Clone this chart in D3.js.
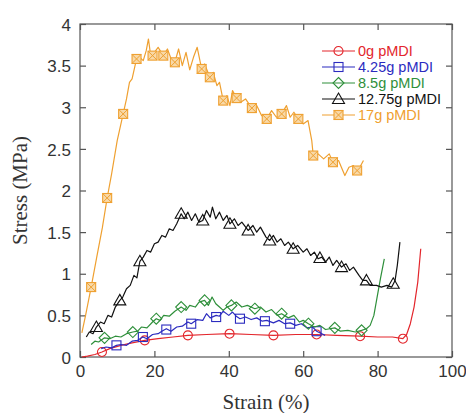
<!DOCTYPE html>
<html>
<head>
<meta charset="utf-8">
<script src="https://cdn.jsdelivr.net/npm/d3@7"></script>
<style>
  body { margin: 0; background: #fff; }
  svg { display: block; }
</style>
</head>
<body>
<div id="chart"></div>
<script>
// Stress-strain curves for foams with different pMDI content

const xTicks = [0, 20, 40, 60, 80, 100];
const yTicks = [0, 0.5, 1, 1.5, 2, 2.5, 3, 3.5, 4];
const seriesNames = ['0g pMDI', '4.25g pMDI', '8.5g pMDI', '12.75g pMDI', '17g pMDI'];

// [strain %, stress MPa]
const line0g = [[0.5,0],[2,0.01],[4,0.03],[5.9,0.06],[8,0.1],[11,0.14],[14,0.17],[17.4,0.2],[21,0.22],[25,0.24],[29,0.26],[34,0.27],[40.2,0.28],[46,0.27],[52,0.26],[58,0.27],[63.6,0.27],[69,0.26],[75.3,0.25],[80,0.24],[84,0.24],[86.8,0.22],[87.8,0.27],[88.8,0.4],[89.8,0.6],[90.8,0.9],[91.6,1.3]];
const marks0g = [[5.9,0.06],[17.4,0.2],[29,0.26],[40.2,0.28],[52,0.26],[63.6,0.27],[75.3,0.25],[86.8,0.22]];

const line425g = [[5.7,0.1],[7,0.12],[8.5,0.11],[9.8,0.14],[11,0.15],[12.5,0.14],[14,0.19],[15.5,0.2],[16.9,0.24],[18,0.22],[19.5,0.27],[21,0.28],[22,0.31],[23.2,0.34],[24.5,0.31],[26,0.36],[27.5,0.37],[29,0.42],[29.9,0.4],[31.5,0.45],[33,0.44],[34,0.52],[35,0.47],[36.6,0.5],[37.5,0.49],[38.5,0.55],[40,0.5],[41,0.54],[42,0.49],[43,0.46],[44.5,0.48],[46,0.45],[47.5,0.47],[49,0.43],[50.2,0.44],[52,0.41],[53.5,0.44],[55,0.4],[56.5,0.41],[58,0.38],[59.5,0.4],[61,0.35],[62.5,0.36],[63.6,0.31],[65,0.28],[65.9,0.26]];
const marks425g = [[9.8,0.14],[16.9,0.24],[23.2,0.33],[29.9,0.4],[36.6,0.48],[43,0.46],[49.7,0.43],[56.5,0.4],[63.6,0.31]];

const line85g = [[3,0.15],[4,0.19],[5,0.18],[6.6,0.23],[8,0.22],[9.5,0.25],[11,0.24],[12.5,0.28],[14.2,0.3],[15.5,0.31],[16.5,0.36],[18,0.35],[19.5,0.42],[20.5,0.46],[21.5,0.44],[22.5,0.5],[24,0.49],[25.5,0.55],[27.2,0.6],[28.5,0.56],[29.5,0.62],[31,0.6],[32,0.66],[33.5,0.68],[34.5,0.62],[35.5,0.72],[36.5,0.64],[37.5,0.6],[38.5,0.56],[39.5,0.6],[40.7,0.62],[42,0.66],[43.5,0.6],[45,0.62],[47,0.58],[48.5,0.6],[50,0.54],[51.5,0.57],[53,0.5],[54.2,0.52],[56,0.47],[57.5,0.5],[59,0.42],[60,0.44],[61.4,0.4],[63,0.36],[64.5,0.38],[66,0.33],[68.5,0.35],[70,0.31],[72,0.32],[74,0.3],[75.7,0.32],[77,0.34],[78,0.38],[79,0.5],[79.8,0.7],[80.8,0.95],[81.8,1.18]];
const marks85g = [[6.6,0.23],[14.2,0.3],[20.5,0.46],[27.2,0.6],[33.5,0.68],[40.7,0.62],[47,0.58],[54.2,0.52],[61.4,0.4],[68.5,0.35],[75.7,0.32]];

const line1275g = [[1.7,0.24],[2.5,0.3],[3.5,0.28],[4.4,0.36],[5.5,0.42],[6.5,0.4],[7.5,0.5],[8.5,0.48],[9.5,0.6],[10.7,0.68],[11.5,0.72],[12.5,0.82],[13.5,0.86],[14.5,0.98],[15.3,0.95],[16.1,1.15],[17,1.2],[18,1.28],[19,1.26],[20,1.36],[21,1.38],[22,1.46],[23,1.44],[24,1.54],[25,1.52],[26,1.6],[27.2,1.72],[28,1.66],[29,1.74],[30,1.64],[31,1.72],[32,1.62],[33,1.64],[34,1.76],[35,1.68],[35.6,1.8],[36.5,1.66],[37.5,1.74],[38.5,1.64],[39.5,1.7],[40.3,1.6],[41.5,1.66],[42.5,1.58],[43.5,1.62],[45.2,1.52],[46.5,1.58],[47.5,1.5],[48.5,1.56],[50,1.44],[51,1.4],[52,1.46],[53,1.38],[54,1.42],[55,1.34],[56,1.38],[57.3,1.3],[58.5,1.34],[60,1.26],[61,1.3],[62,1.22],[63,1.26],[64,1.18],[65,1.2],[66,1.14],[67,1.2],[68,1.1],[69,1.16],[70.3,1.08],[71.5,1.12],[72.5,1.04],[73.5,1.08],[75,0.98],[76,0.92],[77,0.92],[78,0.86],[79.7,0.86],[81,0.84],[82.5,0.86],[83.8,0.84],[84.7,0.92],[85.3,1.1],[86,1.38]];
const marks1275g = [[4.4,0.36],[10.7,0.68],[16.1,1.15],[27.2,1.72],[33,1.64],[40.3,1.6],[45.2,1.52],[51,1.4],[57.3,1.3],[64.5,1.19],[70.3,1.08],[77,0.92],[84.2,0.88]];

const line17g = [[0.5,0.29],[1.5,0.5],[3,0.84],[4.5,1.2],[6,1.55],[7.3,1.91],[8.5,2.2],[10,2.6],[11.6,2.92],[12.5,3.1],[13.3,3.3],[14,3.34],[15.2,3.58],[16,3.6],[17,3.56],[17.8,3.68],[18.4,3.82],[19,3.62],[20,3.66],[21,3.72],[22.4,3.62],[23.5,3.7],[24.5,3.58],[25.5,3.54],[26.5,3.7],[27.5,3.5],[28.5,3.66],[29.5,3.45],[30.5,3.6],[31.5,3.72],[32.7,3.46],[33.5,3.52],[34.9,3.36],[35.8,3.42],[36.8,3.26],[37.5,3.3],[38.5,3.08],[39.5,3.14],[40.3,3.02],[41,3.2],[42.1,3.11],[43.2,3.06],[44.5,3.1],[46.2,2.99],[47.5,3.02],[48.8,2.9],[50.2,2.86],[51.5,2.96],[52.8,2.88],[54.2,2.92],[55.5,3.02],[56.5,2.88],[57.5,2.94],[58.7,2.86],[60,2.8],[61.3,2.84],[62.3,2.6],[62.7,2.42],[64,2.44],[65.5,2.38],[67,2.44],[68,2.34],[69.5,2.36],[71.2,2.18],[72.3,2.28],[73.5,2.3],[74.5,2.22],[76.2,2.36]];
const marks17g = [[3,0.84],[7.3,1.91],[11.6,2.92],[15.2,3.58],[19.5,3.62],[22.4,3.62],[25.5,3.54],[32.7,3.46],[34.9,3.36],[38.5,3.08],[42.1,3.11],[46.2,2.99],[50.2,2.86],[54.2,2.92],[58.7,2.86],[62.7,2.42],[68,2.34],[74.5,2.24]];

function createChart() {
    const width = 466, height = 413;
    const margin = {top: 24, right: 14, bottom: 56, left: 80};

    const svg = d3.select('#chart').append('svg')
        .attr('width', width)
        .attr('height', height);

    const x = d3.scaleLinear().domain([0, 100]).range([margin.left, width - margin.right]);
    const y = d3.scaleLinear().domain([0, 4]).range([height - margin.bottom, margin.top]);

    const series = [
        {name: seriesNames[0], line: line0g, marks: marks0g, color: '#e3262c', shape: 'circle'},
        {name: seriesNames[1], line: line425g, marks: marks425g, color: '#2b2bbf', shape: 'square'},
        {name: seriesNames[2], line: line85g, marks: marks85g, color: '#2e8f3a', shape: 'diamond'},
        {name: seriesNames[3], line: line1275g, marks: marks1275g, color: '#111111', shape: 'triangle'},
        {name: seriesNames[4], line: line17g, marks: marks17g, color: '#efa030', shape: 'xsquare'}
    ];

    // Frame
    svg.append('rect')
        .attr('x', x(0)).attr('y', y(4))
        .attr('width', x(100) - x(0)).attr('height', y(0) - y(4))
        .attr('fill', 'none').attr('stroke', '#555').attr('stroke-width', 1.2);

    // Inner ticks on all sides
    const fmt = d => String(d);
    const axisBottom = d3.axisBottom(x).tickValues(xTicks).tickFormat(fmt).tickSizeInner(-6).tickSizeOuter(0).tickPadding(8);
    const axisTop = d3.axisTop(x).tickValues(xTicks).tickSizeInner(-6).tickSizeOuter(0).tickFormat('');
    const axisLeft = d3.axisLeft(y).tickValues(yTicks).tickFormat(fmt).tickSizeInner(-6).tickSizeOuter(0).tickPadding(9);
    const axisRight = d3.axisRight(y).tickValues(yTicks).tickSizeInner(-6).tickSizeOuter(0).tickFormat('');

    svg.append('g').attr('transform', `translate(0,${y(0)})`).call(axisBottom);
    svg.append('g').attr('transform', `translate(0,${y(4)})`).call(axisTop);
    const gy = svg.append('g').attr('transform', `translate(${x(0)},0)`).call(axisLeft);
    svg.append('g').attr('transform', `translate(${x(100)},0)`).call(axisRight);

    svg.selectAll('.domain').remove();
    svg.selectAll('.tick line').attr('stroke', '#555').attr('stroke-width', 1.2);
    svg.selectAll('.tick text')
        .style('font-family', '"Liberation Sans", Arial, sans-serif')
        .style('font-size', '17px')
        .attr('fill', '#333');
    gy.selectAll('.tick text').attr('dy', '0.36em');

    // Axis titles
    svg.append('text')
        .attr('x', (x(0) + x(100)) / 2)
        .attr('y', 409)
        .attr('text-anchor', 'middle')
        .style('font-family', '"Liberation Serif", "Times New Roman", serif')
        .style('font-size', '21px')
        .attr('fill', '#333')
        .text('Strain (%)');

    svg.append('text')
        .attr('transform', `translate(27,${(y(0) + y(4)) / 2}) rotate(-90)`)
        .attr('text-anchor', 'middle')
        .style('font-family', '"Liberation Serif", "Times New Roman", serif')
        .style('font-size', '21px')
        .attr('fill', '#333')
        .text('Stress (MPa)');

    const line = d3.line().x(d => x(d[0])).y(d => y(d[1]));

    function drawMarker(g, shape, color) {
        if (shape === 'circle') {
            g.append('circle').attr('r', 4.5).attr('fill', 'none').attr('stroke', color).attr('stroke-width', 1.1);
        } else if (shape === 'square') {
            g.append('rect').attr('x', -4.5).attr('y', -4.5).attr('width', 9).attr('height', 9)
                .attr('fill', 'none').attr('stroke', color).attr('stroke-width', 1.1);
        } else if (shape === 'diamond') {
            g.append('path').attr('d', 'M0,-5.5L5.5,0L0,5.5L-5.5,0Z')
                .attr('fill', 'none').attr('stroke', color).attr('stroke-width', 1.1);
        } else if (shape === 'triangle') {
            g.append('path').attr('d', 'M0,-6L6,4.5L-6,4.5Z')
                .attr('fill', 'none').attr('stroke', color).attr('stroke-width', 1.1);
        } else {
            g.append('rect').attr('x', -4.5).attr('y', -4.5).attr('width', 9).attr('height', 9)
                .attr('fill', '#f8d9a8').attr('stroke', color).attr('stroke-width', 1.1);
            g.append('path').attr('d', 'M-4.5,-4.5L4.5,4.5M4.5,-4.5L-4.5,4.5')
                .attr('stroke', color).attr('stroke-width', 1);
        }
    }

    series.forEach(s => {
        svg.append('path')
            .datum(s.line)
            .attr('d', line)
            .attr('fill', 'none')
            .attr('stroke', s.color)
            .attr('stroke-width', 1.2)
            .attr('stroke-linejoin', 'round');

        svg.append('g').selectAll('g')
            .data(s.marks)
            .enter()
            .append('g')
            .attr('transform', d => `translate(${x(d[0])},${y(d[1])})`)
            .each(function() { drawMarker(d3.select(this), s.shape, s.color); });
    });

    // Legend
    const legend = svg.append('g').attr('transform', 'translate(322,51)');
    const rows = legend.selectAll('g')
        .data(series)
        .enter()
        .append('g')
        .attr('transform', (d, i) => `translate(0,${i * 16})`);

    rows.append('line')
        .attr('x1', 0).attr('x2', 33)
        .attr('stroke', d => d.color).attr('stroke-width', 1.2);
    rows.append('g')
        .attr('transform', 'translate(16.5,0)')
        .each(function(d) { drawMarker(d3.select(this), d.shape, d.color); });
    rows.append('text')
        .attr('x', 36)
        .attr('dy', '0.36em')
        .style('font-family', '"Liberation Sans", Arial, sans-serif')
        .style('font-size', '14.5px')
        .attr('fill', d => d.color)
        .text(d => d.name);
}

createChart();
</script>
</body>
</html>
